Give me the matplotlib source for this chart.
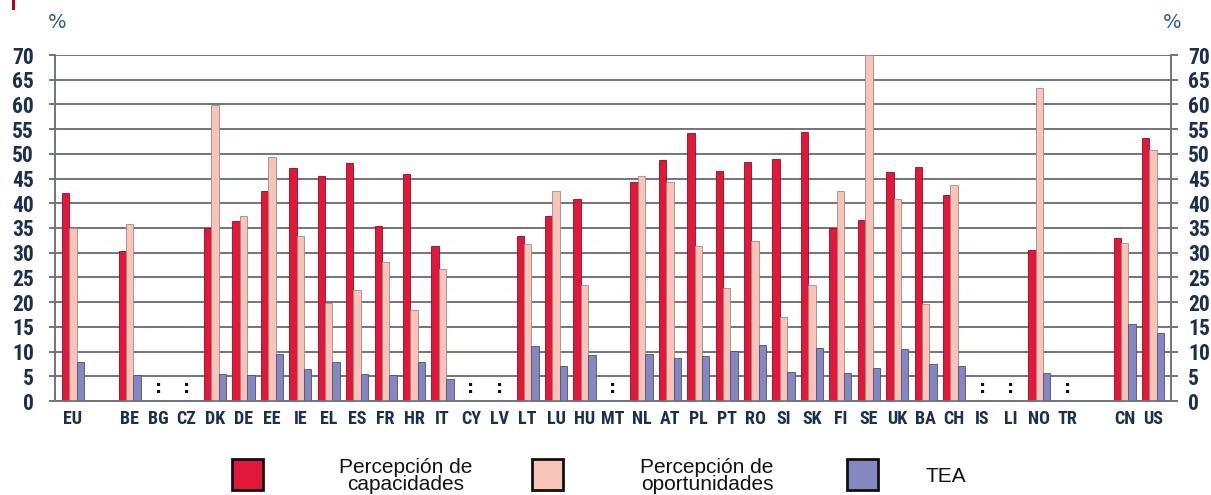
import matplotlib.pyplot as plt
from matplotlib.patches import Rectangle
import numpy as np

# Country codes; None marks an empty slot between groups
countries = ['EU', None, 'BE', 'BG', 'CZ', 'DK', 'DE', 'EE', 'IE', 'EL', 'ES', 'FR',
             'HR', 'IT', 'CY', 'LV', 'LT', 'LU', 'HU', 'MT', 'NL', 'AT', 'PL', 'PT',
             'RO', 'SI', 'SK', 'FI', 'SE', 'UK', 'BA', 'CH', 'IS', 'LI', 'NO', 'TR',
             None, 'CN', 'US']

nan = np.nan
capacidades = [42.0, nan, 30.3, nan, nan, 34.9, 36.4, 42.5, 47.1, 45.5, 48.1, 35.4,
               45.9, 31.3, nan, nan, 33.4, 37.5, 40.9, nan, 44.3, 48.7, 54.3, 46.5,
               48.3, 49.0, 54.4, 35.0, 36.6, 46.3, 47.3, 41.6, nan, nan, 30.5, nan,
               nan, 33.0, 53.3]
oportunidades = [34.9, nan, 35.8, nan, nan, 59.8, 37.5, 49.4, 33.4, 19.9, 22.5, 28.2,
                 18.4, 26.7, nan, nan, 31.7, 42.4, 23.4, nan, 45.5, 44.4, 31.3, 22.9,
                 32.4, 16.9, 23.4, 42.4, 70.0, 40.9, 19.6, 43.7, nan, nan, 63.3, nan,
                 nan, 31.9, 50.8]
tea = [7.9, nan, 5.3, nan, nan, 5.4, 5.3, 9.5, 6.5, 7.8, 5.4, 5.3,
       7.9, 4.5, nan, nan, 11.2, 7.1, 9.4, nan, 9.5, 8.6, 9.1, 10.1,
       11.3, 5.9, 10.8, 5.6, 6.7, 10.6, 7.5, 7.1, nan, nan, 5.6, nan,
       nan, 15.5, 13.8]
no_data = ['BG', 'CZ', 'CY', 'LV', 'MT', 'IS', 'LI', 'TR']

series_labels = ['Percepción de\ncapacidades', 'Percepción de\noportunidades', 'TEA']
colors = ['#E2173A', '#F8C4B8', '#8487C0']
edges = ['#8C0F22', '#A08A85', '#4B4F80']

navy = '#1C2F52'
grid_col = '#6E7480'
tick_font = ['Roboto Condensed', 'DejaVu Sans']
yticks = np.arange(0, 71, 5)

fig = plt.figure(figsize=(12.11, 4.95), dpi=100)
ax = fig.add_axes([55 / 1211, 1 - 401 / 495, (1171 - 55) / 1211, (401 - 55) / 495])

x = np.arange(len(countries))
w = 0.26
for i, vals in enumerate([capacidades, oportunidades, tea]):
    ax.bar(x + (i - 1) * w, vals, width=w, color=colors[i], edgecolor=edges[i],
           linewidth=0.6, zorder=3)

# ':' for missing values
for i, c in enumerate(countries):
    if c in no_data:
        ax.text(i, 2.6, ':', ha='center', va='center', fontsize=13,
                fontweight='bold', color='#111111', zorder=4)

ax.set_xlim(-0.63, len(countries) - 1 + 0.63)
ax.set_ylim(0, 70)
ax.set_yticks(yticks)
ax.yaxis.grid(True, color=grid_col, linewidth=1.4, zorder=0)
ax.set_axisbelow(True)

ax.set_xticks([i for i, c in enumerate(countries) if c is not None])
ax.set_xticklabels([c for c in countries if c is not None], family=tick_font,
                   fontsize=13, fontweight='bold', color=navy)
ax.tick_params(axis='x', length=0, pad=6.5)
ax.tick_params(axis='y', length=4.5, width=1.4, color=grid_col, pad=10.5)

# right-hand copy of the scale
ax2 = ax.twinx()
ax2.set_ylim(0, 70)
ax2.set_yticks(yticks)
ax2.tick_params(axis='y', length=5, width=1.4, color=grid_col, pad=7.5)

for a in (ax, ax2):
    for lab in a.get_yticklabels():
        lab.set_family(tick_font)
        lab.set_fontweight('bold')
        lab.set_fontsize(15.5)
        lab.set_color(navy)
    for s in ['left', 'right', 'bottom']:
        a.spines[s].set_color(grid_col)
        a.spines[s].set_linewidth(1.2)
    a.spines['top'].set_visible(False)

# '%' units on both sides
fig.text(48 / 1211, 1 - 22 / 495, '%', ha='left', va='center', fontsize=14, color='#2F5597')
fig.text(1163 / 1211, 1 - 22 / 495, '%', ha='left', va='center', fontsize=14, color='#2F5597')

# small red mark top-left
fig.patches.append(Rectangle((12 / 1211, 1 - 10 / 495), 3 / 1211, 10 / 495,
                             transform=fig.transFigure, color='#C00000', lw=0))

# legend below the chart
sq_x = [232, 532, 847]
txt_x = [406, 707, 946]
for i in range(3):
    fig.patches.append(Rectangle((sq_x[i] / 1211, 1 - 490 / 495), 31 / 1211, 31 / 495,
                                 transform=fig.transFigure, facecolor=colors[i],
                                 edgecolor='#111111', lw=2))
    fig.text(txt_x[i] / 1211, 1 - 476 / 495, series_labels[i], ha='center', va='center',
             fontsize=15, color='#111111', linespacing=0.88,
             family=['Liberation Sans', 'DejaVu Sans'])

fig.savefig('out.png', dpi=100)
